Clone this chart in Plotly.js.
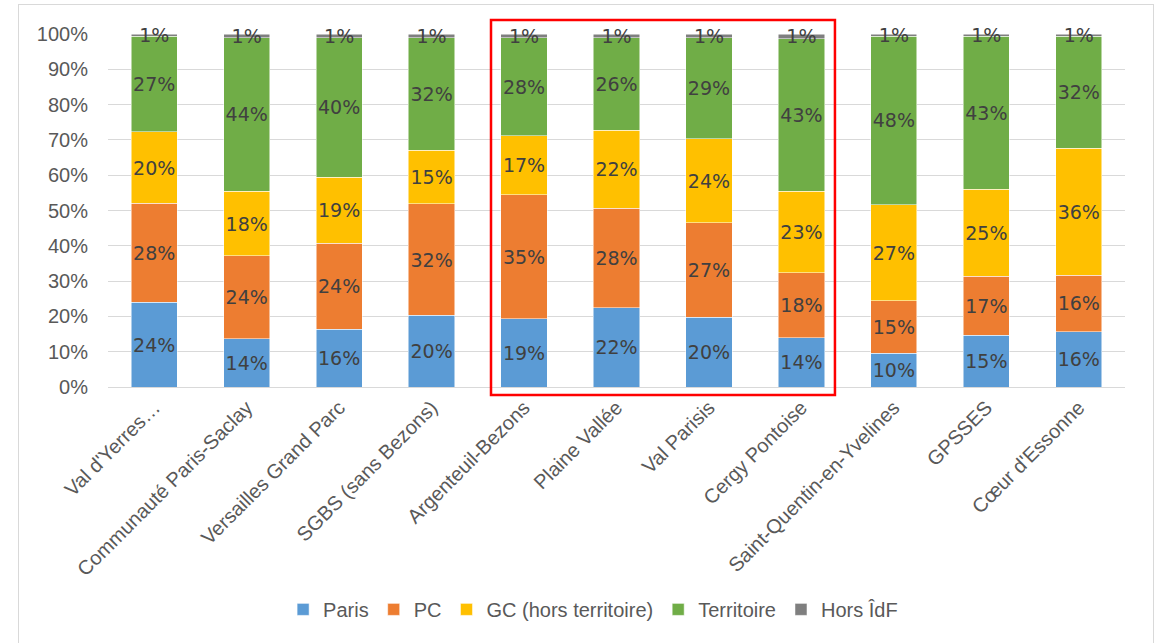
<!DOCTYPE html>
<html>
<head>
<meta charset="utf-8">
<script src="https://cdn.plot.ly/plotly-3.0.1.min.js"></script>
<style>
html,body{margin:0;padding:0;background:#fff;}
#chart{width:1156px;height:643px;}
#frame{position:absolute;left:18px;top:4px;width:1134px;height:660px;border:1.5px solid #D9D9D9;pointer-events:none;}
</style>
</head>
<body>
<div id="chart"></div>
<div id="frame"></div>
<script>
const categories = ["Val d'Yerres…","Communauté Paris-Saclay","Versailles Grand Parc","SGBS (sans Bezons)","Argenteuil-Bezons","Plaine Vallée","Val Parisis","Cergy Pontoise","Saint-Quentin-en-Yvelines","GPSSES","Cœur d'Essonne"];
const paris      = [24.0,13.6,16.4,20.3,19.4,22.4,19.8,13.9, 9.6,14.7,15.7];
const pc         = [28.0,23.6,24.3,31.6,35.0,28.3,26.7,18.4,14.8,16.7,16.0];
const gc         = [20.3,18.2,18.7,15.1,16.8,22.0,23.8,23.2,27.2,24.6,35.9];
const territoire = [27.0,43.6,39.6,32.0,27.8,26.3,28.7,43.1,47.8,43.3,31.7];
const horsIdf    = [ 0.7, 1.0, 1.0, 1.0, 1.0, 1.0, 1.0, 1.4, 0.6, 0.7, 0.7];
const seriesNames = ["Paris","PC","GC (hors territoire)","Territoire","Hors ÎdF"];
const seriesColors = ["#5B9BD5","#ED7D31","#FFC000","#70AD47","#7F7F7F"];
const seriesValues = [paris, pc, gc, territoire, horsIdf];

const sans = "'Liberation Sans', Arial, sans-serif";

const traces = seriesValues.map((vals, i) => ({
  type: 'bar',
  name: seriesNames[i],
  x: categories,
  y: vals,
  marker: {color: seriesColors[i], line: {color: '#ffffff', width: 0.5}},
  texttemplate: '%{y:.0f}%',
  textposition: 'inside',
  insidetextanchor: 'middle',
  textangle: 0,
  constraintext: 'none',
  cliponaxis: false,
  textfont: {family: "'DejaVu Sans', sans-serif", size: 19, color: '#404040'},
  hoverinfo: 'skip'
}));

const layout = {
  width: 1156, height: 643,
  margin: {l: 108, r: 31, t: 34, b: 256},
  barmode: 'stack',
  bargap: 0.5,
  paper_bgcolor: '#ffffff',
  plot_bgcolor: '#ffffff',
  showlegend: true,
  legend: {
    orientation: 'h', x: 0.477, xanchor: 'center', y: -0.63, yanchor: 'middle',
    font: {family: sans, size: 20, color: '#595959'},
    traceorder: 'normal', itemwidth: 30
  },
  xaxis: {
    type: 'category',
    tickangle: -45,
    tickfont: {family: sans, size: 20, color: '#595959'},
    showgrid: false, showline: true, linecolor: '#D9D9D9', linewidth: 1,
    ticks: '', automargin: false
  },
  yaxis: {
    range: [0, 100],
    dtick: 10,
    ticksuffix: '%',
    tickfont: {family: sans, size: 20, color: '#595959'},
    gridcolor: '#D9D9D9', gridwidth: 1,
    zeroline: false, showline: false, ticks: '', ticklabelstandoff: 19,
    automargin: false
  },
  shapes: [{
    type: 'rect', xref: 'paper', yref: 'paper',
    x0: 0.3766, x1: 0.7148, y0: -0.0227, y1: 1.0397,
    line: {color: '#FF0000', width: 2.5}, fillcolor: 'rgba(0,0,0,0)'
  }]
};

Plotly.newPlot('chart', traces, layout, {displayModeBar: false, staticPlot: true});
</script>
</body>
</html>
